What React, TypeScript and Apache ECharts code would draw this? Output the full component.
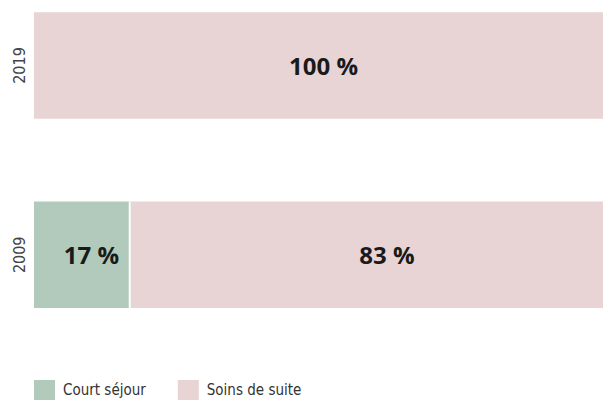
import React, { useEffect, useRef } from "react";
import * as echarts from "echarts";

const categories = ["2009", "2019"];
const courtSejour = [17, 0];
const soinsDeSuite = [83, 100];
const seriesNames = ["Court séjour", "Soins de suite"];
const colors = ["#b2cabb", "#e8d4d4"];

const lightFont = "'Liberation Sans Narrow', 'DejaVu Sans Condensed', sans-serif";
const boldFont = "'Open Sans', 'DejaVu Sans', sans-serif";

export default function App() {
  const ref = useRef<HTMLDivElement>(null);
  useEffect(() => {
    if (!ref.current) return;
    const chart = echarts.init(ref.current, null, { renderer: "svg" });
    const barWidth = 106.5;
    const labelBase = {
      show: true,
      fontFamily: boldFont,
      fontWeight: "bold" as const,
      fontSize: 24,
      color: "#1a1a1a",
      formatter: (p: any) => `${p.value} %`,
    };
    chart.setOption({
      animation: false,
      grid: { left: 34, right: 0, top: 65.5, bottom: 145.2, containLabel: false },
      xAxis: { type: "value", min: 0, max: 100, show: false },
      yAxis: {
        type: "category",
        data: categories,
        boundaryGap: false,
        axisLine: { show: false },
        axisTick: { show: false },
        splitLine: { show: false },
        axisLabel: {
          rotate: 90,
          margin: 7,
          fontFamily: lightFont,
          fontSize: 16,
          color: "#444",
        },
      },
      legend: {
        left: 34,
        top: 380,
        padding: 0,
        itemWidth: 21,
        itemHeight: 20,
        itemGap: 32,
        icon: "rect",
        textStyle: { fontFamily: lightFont, fontSize: 15, color: "#333", padding: [0, 0, 0, 3] },
        data: seriesNames,
      },
      series: [
        {
          name: seriesNames[0],
          type: "bar",
          stack: "a",
          barWidth,
          clip: false,
          itemStyle: { color: colors[0] },
          data: courtSejour.map((v) =>
            v > 0
              ? { value: v, label: { ...labelBase, position: "inside", offset: [9, 0] } }
              : { value: v, label: { show: false } }
          ),
        },
        {
          name: seriesNames[1],
          type: "bar",
          stack: "a",
          barWidth,
          clip: false,
          itemStyle: { color: colors[1] },
          data: soinsDeSuite.map((v, i) => ({
            value: v,
            label: { ...labelBase, position: "inside", offset: [i === 0 ? 20 : 5, 0] },
          })),
        },
      ],
    });
    // white separator between the two stacked segments of each year
    const separators: any[] = [];
    categories.forEach((cat, i) => {
      if (courtSejour[i] > 0 && soinsDeSuite[i] > 0) {
        const p = chart.convertToPixel({ gridIndex: 0 }, [courtSejour[i], cat]) as number[];
        separators.push({
          type: "rect",
          shape: { x: p[0] - 2, y: p[1] - barWidth / 2, width: 2, height: barWidth },
          style: { fill: "#ffffff" },
          z: 100,
        });
      }
    });
    chart.setOption({ graphic: separators });
    return () => chart.dispose();
  }, []);
  return <div ref={ref} style={{ width: 603, height: 400, position: "absolute", left: 0, top: 0 }} />;
}
